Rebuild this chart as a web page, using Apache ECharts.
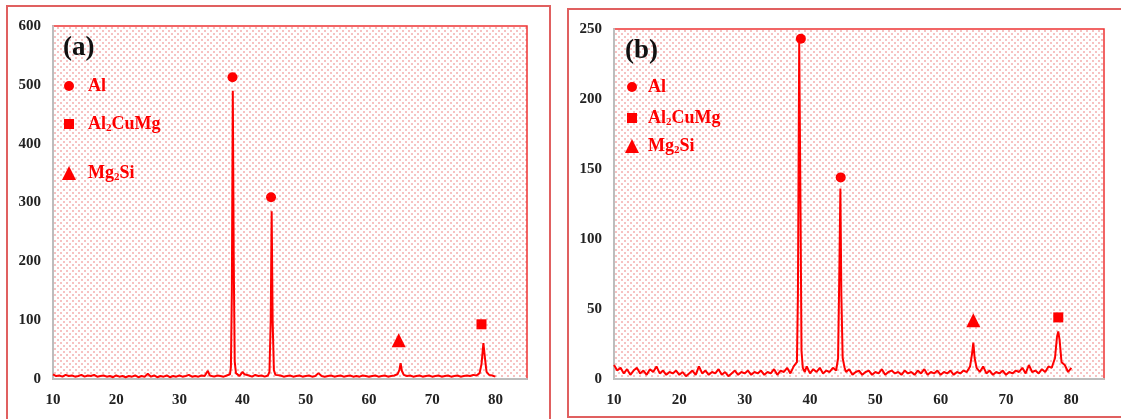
<!DOCTYPE html>
<html><head><meta charset="utf-8">
<script src="https://cdn.jsdelivr.net/npm/echarts@6/dist/echarts.min.js"></script>
<style>html,body{margin:0;padding:0;background:#fff}#c{width:1121px;height:419px}</style>
</head><body><div id="c"></div>
<script>
// ---------- data ----------
const xTicks = [10, 20, 30, 40, 50, 60, 70, 80];
const patternA = [[10,8],[10.5,5],[11,6],[11.5,4],[12,7],[12.5,5],[13,6],[13.5,4],[14,5],[14.5,7],[15,4],[15.5,6],[16,5],[16.5,7],[17,4],[17.5,5],[18,6],[18.5,4],[19,5],[19.5,3],[20,6],[20.5,4],[21,5],[21.5,3],[22,5],[22.5,4],[23,6],[23.5,3],[24,5],[24.5,4],[25,9],[25.5,4],[26,6],[26.5,3],[27,5],[27.5,4],[28,6],[28.5,3],[29,5],[29.5,4],[30,6],[30.5,4],[31,5],[31.5,7],[32,4],[32.5,5],[33,4],[33.5,6],[34,5],[34.5,14],[34.8,6],[35,5],[35.5,4],[36,6],[36.5,5],[37,4],[37.5,6],[38,8],[38.15,20],[38.3,150],[38.45,490],[38.6,200],[38.75,30],[38.95,10],[39.2,7],[39.5,5],[40,12],[40.3,8],[40.5,5],[41,6],[41.5,4],[42,7],[42.5,5],[43,6],[43.5,4],[44,6],[44.25,12],[44.45,100],[44.6,285],[44.75,100],[44.95,15],[45.2,7],[45.5,5],[46,6],[46.5,4],[47,5],[47.5,6],[48,4],[48.5,5],[49,6],[49.5,4],[50,5],[50.5,6],[51,4],[51.5,5],[52,10],[52.5,5],[53,4],[53.5,5],[54,6],[54.5,4],[55,5],[55.5,6],[56,4],[56.5,5],[57,6],[57.5,4],[58,5],[58.5,4],[59,6],[59.5,5],[60,4],[60.5,5],[61,6],[61.5,4],[62,5],[62.5,6],[63,4],[63.5,5],[64,6],[64.5,8],[64.8,15],[65,27],[65.2,14],[65.5,7],[66,5],[66.5,6],[67,4],[67.5,5],[68,6],[68.5,4],[69,5],[69.5,6],[70,4],[70.5,5],[71,6],[71.5,4],[72,5],[72.5,6],[73,4],[73.5,5],[74,6],[74.5,4],[75,5],[75.5,6],[76,5],[76.5,7],[77,6],[77.5,10],[77.8,25],[78.1,61],[78.35,35],[78.6,12],[79,7],[79.5,6],[80,4]];
const patternB = [[10,10],[10.5,6],[11,8],[11.5,4],[12,7],[12.5,3],[13,6],[13.5,8],[14,4],[14.5,6],[15,3],[15.5,7],[16,5],[16.5,9],[17,4],[17.5,6],[18,3],[18.5,5],[19,4],[19.5,6],[20,3],[20.5,5],[21,2],[21.5,4],[22,6],[22.5,3],[23,9],[23.5,4],[24,6],[24.5,3],[25,5],[25.5,4],[26,7],[26.5,3],[27,5],[27.5,2],[28,4],[28.5,6],[29,3],[29.5,5],[30,4],[30.5,6],[31,3],[31.5,5],[32,4],[32.5,6],[33,3],[33.5,5],[34,4],[34.5,7],[35,3],[35.5,6],[36,5],[36.5,8],[37,4],[37.5,9],[38,12],[38.15,60],[38.35,241],[38.55,120],[38.7,20],[38.9,8],[39.2,5],[39.5,9],[40,4],[40.5,7],[41,5],[41.5,8],[42,4],[42.5,6],[43,5],[43.5,8],[44,6],[44.3,15],[44.5,80],[44.65,136],[44.8,60],[45,15],[45.3,8],[45.5,5],[46,7],[46.5,3],[47,5],[47.5,6],[48,3],[48.5,5],[49,6],[49.5,3],[50,5],[50.5,4],[51,7],[51.5,3],[52,5],[52.5,6],[53,4],[53.5,5],[54,3],[54.5,6],[55,4],[55.5,5],[56,3],[56.5,6],[57,4],[57.5,7],[58,3],[58.5,5],[59,4],[59.5,6],[60,3],[60.5,5],[61,4],[61.5,6],[62,3],[62.5,5],[63,4],[63.5,6],[64,5],[64.5,9],[64.8,18],[65,26],[65.2,15],[65.5,8],[66,5],[66.5,9],[67,4],[67.5,6],[68,3],[68.5,5],[69,4],[69.5,6],[70,3],[70.5,5],[71,4],[71.5,6],[72,5],[72.5,8],[73,4],[73.5,10],[74,5],[74.5,6],[75,4],[75.5,7],[76,5],[76.5,9],[77,8],[77.5,15],[77.8,30],[78,34],[78.2,28],[78.5,12],[79,10],[79.5,5],[80,8]];
const alA = [[38.4, 513], [44.5, 309]];
const cuA = [[77.8, 93]];
const mgA = [[64.7, 66]];
const alB = [[38.6, 243], [44.7, 144]];
const cuB = [[78.0, 44]];
const mgB = [[65.0, 42]];
const phaseNames = ['Al', 'Al2CuMg', 'Mg2Si'];
const panelLabels = ['(a)', '(b)'];

// ---------- style ----------
const RED = '#ff0000';
const SERIF = '"Liberation Serif","Times New Roman",serif';
function dotPattern() {
  const c = document.createElement('canvas');
  c.width = 6; c.height = 6;
  const g = c.getContext('2d');
  g.fillStyle = '#ffffff'; g.fillRect(0, 0, 6, 6);
  g.fillStyle = '#f6c2c2';
  g.fillRect(0, 0, 2, 2);
  g.fillRect(3, 3, 2, 2);
  return c;
}
const bg = { image: dotPattern(), repeat: 'repeat' };

function xAx(gi) {
  return {
    gridIndex: gi, type: 'value', min: 10, max: 85, interval: 10,
    axisLine: { lineStyle: { color: '#bdbdbd', width: 2 } },
    axisTick: { show: false }, splitLine: { show: false },
    axisLabel: { color: '#222', fontFamily: SERIF, fontWeight: 'bold', fontSize: 15, margin: 14,
      formatter: v => (xTicks.includes(v) ? String(v) : '') }
  };
}
function yAx(gi, max, interval) {
  return {
    gridIndex: gi, type: 'value', min: 0, max: max, interval: interval,
    axisLine: { show: true, lineStyle: { color: '#bdbdbd', width: 2 } },
    axisTick: { show: false }, splitLine: { show: false },
    axisLabel: { color: '#222', fontFamily: SERIF, fontWeight: 'bold', fontSize: 15, margin: 12 }
  };
}
const rich = { s: { fontSize: 11, fontFamily: SERIF, fontWeight: 'bold', color: RED, padding: [9, 0, 0, 0] } };
function fmt(n) { return n.replace(/(\d)/, '{s|$1}'); }
const symbols = { 'Al': 'circle', 'Al2CuMg': 'rect', 'Mg2Si': 'triangle' };
const sizes = { 'Al': 10, 'Al2CuMg': 10, 'Mg2Si': 14 };

function legend(name, left, top, gap) {
  return {
    data: [name], left: left, top: top, orient: 'vertical', padding: 0,
    itemWidth: sizes[name], itemHeight: sizes[name],
    selectedMode: false,
    formatter: fmt,
    textStyle: { color: RED, fontFamily: SERIF, fontWeight: 'bold', fontSize: 18, rich: rich, padding: [0, 0, 0, gap] }
  };
}
function marker(name, data, gi) {
  return {
    name: name, type: 'scatter', xAxisIndex: gi, yAxisIndex: gi, data: data,
    symbol: symbols[name], symbolSize: sizes[name],
    itemStyle: { color: RED, opacity: 1 }, z: 5
  };
}

const option = {
  animation: false,
  backgroundColor: '#fff',
  title: [
    { text: panelLabels[0], left: 58, top: 30, textStyle: { fontFamily: SERIF, fontWeight: 'bold', fontSize: 27, color: '#111' } },
    { text: panelLabels[1], left: 620, top: 33, textStyle: { fontFamily: SERIF, fontWeight: 'bold', fontSize: 27, color: '#111' } }
  ],
  grid: [
    { left: 53, top: 26, width: 474, height: 353, show: true, backgroundColor: bg, borderColor: '#e33', borderWidth: 1.5 },
    { left: 614, top: 29, width: 490, height: 350, show: true, backgroundColor: bg, borderColor: '#e33', borderWidth: 1.5 }
  ],
  xAxis: [xAx(0), xAx(1)],
  yAxis: [yAx(0, 600, 100), yAx(1, 250, 50)],
  legend: [
    legend('Al', 64, 77, 9),
    legend('Al2CuMg', 64, 115, 9),
    legend('Mg2Si', 62, 164, 7),
    legend('Al', 627, 78, 6),
    legend('Al2CuMg', 627, 109, 6),
    legend('Mg2Si', 625, 137, 4)
  ],
  graphic: [
    { type: 'rect', shape: { x: 7, y: 6, width: 543, height: 430 }, style: { fill: 'none', stroke: '#e06060', lineWidth: 2 }, silent: true },
    { type: 'rect', shape: { x: 568, y: 9, width: 560, height: 408 }, style: { fill: 'none', stroke: '#e06060', lineWidth: 2 }, silent: true }
  ],
  series: [
    { type: 'line', xAxisIndex: 0, yAxisIndex: 0, data: patternA, showSymbol: false, lineStyle: { color: RED, width: 2 }, z: 3 },
    { type: 'line', xAxisIndex: 1, yAxisIndex: 1, data: patternB, showSymbol: false, lineStyle: { color: RED, width: 2 }, z: 3 },
    marker('Al', alA, 0), marker('Al2CuMg', cuA, 0), marker('Mg2Si', mgA, 0),
    marker('Al', alB, 1), marker('Al2CuMg', cuB, 1), marker('Mg2Si', mgB, 1)
  ]
};
const chart = echarts.init(document.getElementById('c'), null, { renderer: 'canvas' });
chart.setOption(option);
</script></body></html>
